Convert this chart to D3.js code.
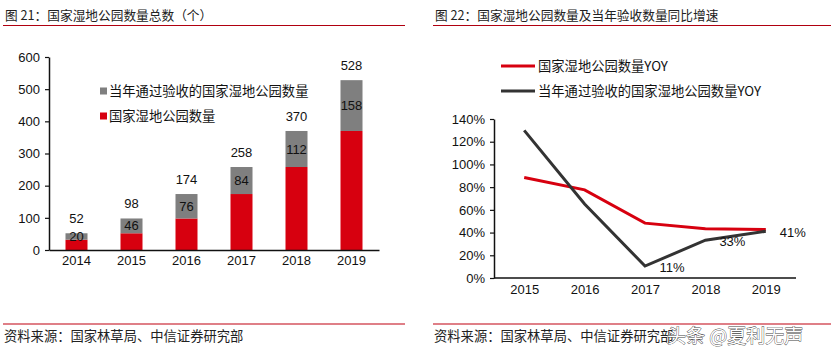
<!DOCTYPE html>
<html><head><meta charset="utf-8">
<script src="https://cdn.jsdelivr.net/npm/d3@7"></script>
<style>
html,body{margin:0;padding:0;background:#fff;}
svg{display:block;}
.cjk{font-family:"Noto Sans CJK SC","Noto Sans",sans-serif;}
.num{font-family:"Liberation Sans",Arial,sans-serif;}
</style></head>
<body>
<svg id="c" width="831" height="354"></svg>
<script>
// ---- data ----
const years = ["2014","2015","2016","2017","2018","2019"];
const totalParks = [52, 98, 174, 258, 370, 528];
const acceptedParks = [20, 46, 76, 84, 112, 158];
const baseParks = [32, 52, 98, 174, 258, 370];
const leftTicks = [0,100,200,300,400,500,600];

const yoyYears = ["2015","2016","2017","2018","2019"];
const totalYoY = [88.5, 77.6, 48.3, 43.4, 42.7];
const acceptedYoY = [130, 65.2, 10.5, 33.3, 41.1];
const yoyLabels = [null, null, "11%", "33%", "41%"];
const rightTicks = [0,20,40,60,80,100,120,140];

const RED = "#d7000f", GREY = "#7f7f7f", DARK = "#333333";
const svg = d3.select("#c");

// ---- titles & footers ----
function header(x0, x1, txt){
  svg.append("text").attr("class","cjk").attr("x",x0+2).attr("y",20)
    .attr("font-size",12.7).attr("fill","#222").text(txt);
  svg.append("line").attr("x1",x0).attr("x2",x1).attr("y1",25.5).attr("y2",25.5)
    .attr("stroke","#b00010").attr("stroke-width",1.2);
}
header(3, 405, "图 21：国家湿地公园数量总数（个）");
header(433, 831, "图 22：国家湿地公园数量及当年验收数量同比增速");
function footer(x0, x1){
  svg.append("line").attr("x1",x0).attr("x2",x1).attr("y1",324).attr("y2",324)
    .attr("stroke","#c00010").attr("stroke-width",1.2);
  svg.append("text").attr("class","cjk").attr("x",x0+1).attr("y",341)
    .attr("font-size",13.3).attr("fill","#222").text("资料来源：国家林草局、中信证券研究部");
}
footer(3, 405);
footer(433, 831);
svg.append("text").attr("class","cjk").attr("x",667).attr("y",343)
  .attr("font-size",19).attr("fill","#fff").attr("stroke","#444").attr("stroke-width",0.8)
  .attr("paint-order","stroke").text("头条 @夏利无声");

// ---- left chart ----
const xL = d3.scaleBand().domain(years).range([49,379]).paddingInner(0.6).paddingOuter(0.3);
const yL = d3.scaleLinear().domain([0,600]).range([250,57]);
const gL = svg.append("g");
const yAxL = d3.axisLeft(yL).tickValues(leftTicks).tickSize(4).tickSizeOuter(0).tickPadding(5);
gL.append("g").attr("transform","translate(49,0)").call(yAxL)
  .call(g=>{g.selectAll("text").attr("class","num").attr("font-size",13).attr("fill","#111");
            g.select(".domain").attr("stroke","#111").attr("stroke-width",1.5);
            g.selectAll(".tick line").attr("stroke","#111").attr("stroke-width",1.2);});
// bars
years.forEach((yr,i)=>{
  gL.append("rect").attr("x",xL(yr)).attr("width",xL.bandwidth())
    .attr("y",yL(baseParks[i])).attr("height",yL(0)-yL(baseParks[i])).attr("fill",RED);
  gL.append("rect").attr("x",xL(yr)).attr("width",xL.bandwidth())
    .attr("y",yL(totalParks[i])).attr("height",yL(baseParks[i])-yL(totalParks[i])).attr("fill",GREY);
  const cx = xL(yr)+xL.bandwidth()/2;
  gL.append("text").attr("class","num").attr("x",cx).attr("y",yL(totalParks[i])-15)
    .attr("dy","0.35em").attr("text-anchor","middle").attr("font-size",13).attr("fill","#111").text(totalParks[i]);
  gL.append("text").attr("class","num").attr("x",cx).attr("y",yL((baseParks[i]+totalParks[i])/2))
    .attr("dy","0.35em").attr("text-anchor","middle").attr("font-size",13).attr("fill","#111").text(acceptedParks[i]);
});
const xAxL = d3.axisBottom(xL).tickSize(0).tickPadding(6);
gL.append("g").attr("transform","translate(0,250)").call(xAxL)
  .call(g=>{g.selectAll("text").attr("class","num").attr("font-size",13).attr("fill","#111");
            g.select(".domain").attr("stroke","#111").attr("stroke-width",1.5);});
// legend
[[GREY,"当年通过验收的国家湿地公园数量",91],[RED,"国家湿地公园数量",116]].forEach(d=>{
  gL.append("rect").attr("x",100).attr("y",d[2]-3.5).attr("width",7).attr("height",7).attr("fill",d[0]);
  gL.append("text").attr("class","cjk").attr("x",109).attr("y",d[2]).attr("dy","0.35em")
    .attr("font-size",13.3).attr("fill","#111").text(d[1]);
});

// ---- right chart ----
const xR = d3.scalePoint().domain(yoyYears).range([494,796]).padding(0.5);
const yR = d3.scaleLinear().domain([0,140]).range([278,119]);
const gR = svg.append("g");
gR.append("g").attr("transform","translate(494,0)")
  .call(d3.axisLeft(yR).tickValues(rightTicks).tickFormat(d=>d+"%").tickSize(4).tickSizeOuter(0).tickPadding(5))
  .call(g=>{g.selectAll("text").attr("class","num").attr("font-size",13).attr("fill","#111");
            g.select(".domain").attr("stroke","#111").attr("stroke-width",1.5);
            g.selectAll(".tick line").attr("stroke","#111").attr("stroke-width",1.2);});
gR.append("g").attr("transform","translate(0,278)")
  .call(d3.axisBottom(xR).tickSize(0).tickPadding(7))
  .call(g=>{g.selectAll("text").attr("class","num").attr("font-size",13).attr("fill","#111");
            g.select(".domain").attr("d","M494,0H796").attr("stroke","#111").attr("stroke-width",1.5);});
const line = d3.line().x((d,i)=>xR(yoyYears[i])).y(d=>yR(d));
gR.append("path").datum(totalYoY).attr("d",line).attr("fill","none")
  .attr("stroke",RED).attr("stroke-width",3);
gR.append("path").datum(acceptedYoY).attr("d",line).attr("fill","none")
  .attr("stroke",DARK).attr("stroke-width",3);
yoyLabels.forEach((t,i)=>{
  if(!t) return;
  gR.append("text").attr("class","num").attr("x",xR(yoyYears[i])+27).attr("y",yR(acceptedYoY[i])+1)
    .attr("dy","0.35em").attr("text-anchor","middle").attr("font-size",13).attr("fill","#111").text(t);
});
// legend
[[RED,"国家湿地公园数量YOY",66],[DARK,"当年通过验收的国家湿地公园数量YOY",91]].forEach(d=>{
  gR.append("line").attr("x1",501).attr("x2",535).attr("y1",d[2]).attr("y2",d[2])
    .attr("stroke",d[0]).attr("stroke-width",3);
  gR.append("text").attr("class","cjk").attr("x",538).attr("y",d[2]).attr("dy","0.35em")
    .attr("font-size",13.3).attr("fill","#111").text(d[1]);
});
</script>
</body></html>
